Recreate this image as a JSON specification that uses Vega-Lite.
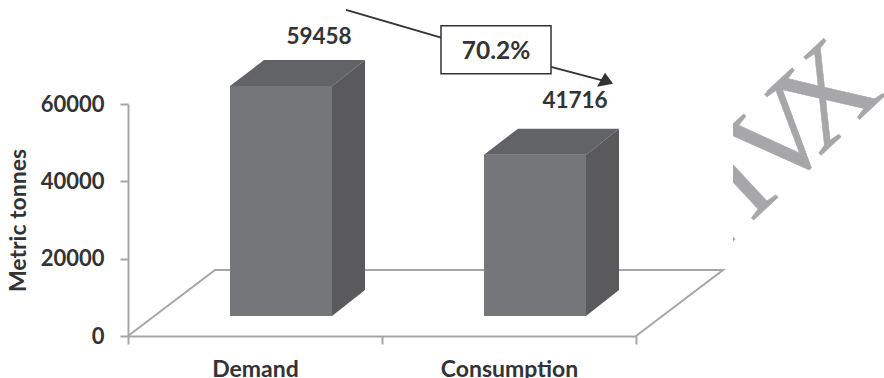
{
  "$schema": "https://vega.github.io/schema/vega-lite/v6.json",
  "width": 508,
  "height": 232,
  "autosize": "none",
  "padding": {"left": 128, "top": 104, "right": 248, "bottom": 42},
  "background": "#ffffff",
  "config": {"view": {"stroke": null}},
  "data": {"values": [
    {"category": "Demand", "value": 59458},
    {"category": "Consumption", "value": 41716}
  ]},
  "encoding": {
    "x": {
      "field": "category",
      "type": "nominal",
      "sort": ["Demand", "Consumption"],
      "scale": {"paddingInner": 0, "paddingOuter": 0},
      "axis": {
        "title": null,
        "labelAngle": 0,
        "tickBand": "extent",
        "tickSize": 8,
        "tickWidth": 2,
        "tickColor": "#a6a6a6",
        "domainColor": "#a6a6a6",
        "domainWidth": 2,
        "labelFont": "Lato",
        "labelFontWeight": "bold",
        "labelFontSize": 23,
        "labelColor": "#333333",
        "labelPadding": 14
      }
    }
  },
  "layer": [
    {
      "transform": [{"filter": "datum.category === 'Consumption'"}],
      "mark": {"type": "text", "text": "I", "font": "Liberation Serif", "fontSize": 128, "angle": 317, "align": "center", "baseline": "middle", "color": "#a7a7aa", "stroke": "#a7a7aa", "strokeWidth": 0.5, "xOffset": 188, "yOffset": -113},
      "encoding": {"y": {"datum": 0, "type": "quantitative", "scale": {"domain": [0, 60000], "nice": false}, "axis": {
        "title": "Metric tonnes",
        "values": [0, 20000, 40000, 60000],
        "format": "d",
        "grid": false,
        "tickSize": 8,
        "tickWidth": 2,
        "tickColor": "#a6a6a6",
        "domainColor": "#a6a6a6",
        "domainWidth": 2,
        "labelFont": "Lato",
        "labelFontWeight": "bold",
        "labelFontSize": 22,
        "labelColor": "#333333",
        "labelPadding": 16,
        "titleFont": "Lato",
        "titleFontWeight": "bold",
        "titleFontSize": 23,
        "titleColor": "#333333",
        "titlePadding": 10
      }}}
    },
    {
      "transform": [{"filter": "datum.category === 'Consumption'"}],
      "mark": {"type": "text", "text": "I", "font": "Liberation Serif", "fontSize": 128, "angle": 317, "align": "center", "baseline": "middle", "color": "#a7a7aa", "stroke": "#a7a7aa", "strokeWidth": 0.5, "xOffset": 231, "yOffset": -155},
      "encoding": {"y": {"datum": 0, "type": "quantitative"}}
    },
    {
      "transform": [{"filter": "datum.category === 'Consumption'"}],
      "mark": {"type": "text", "text": "V", "font": "Liberation Serif", "fontSize": 128, "angle": 317, "align": "center", "baseline": "middle", "color": "#a7a7aa", "stroke": "#a7a7aa", "strokeWidth": 0.5, "xOffset": 274, "yOffset": -196},
      "encoding": {"y": {"datum": 0, "type": "quantitative"}}
    },
    {
      "transform": [{"filter": "datum.category === 'Consumption'"}],
      "mark": {"type": "text", "text": "X", "font": "Liberation Serif", "fontSize": 128, "angle": 317, "align": "center", "baseline": "middle", "color": "#a7a7aa", "stroke": "#a7a7aa", "strokeWidth": 0.5, "xOffset": 318, "yOffset": -238},
      "encoding": {"y": {"datum": 0, "type": "quantitative"}}
    },
    {
      "transform": [{"filter": "datum.category === 'Consumption'"}],
      "mark": {"type": "point", "shape": "M91,-276L224,-276L224,-6L91,-6Z", "size": 4, "filled": true, "color": "#ffffff", "opacity": 1, "strokeWidth": 0},
      "encoding": {"y": {"datum": 0, "type": "quantitative"}}
    },
    {
      "transform": [{"filter": "datum.category === 'Demand'"}],
      "mark": {"type": "point", "shape": "M-127,0L-40,-66L468,-66L381,0", "size": 4, "filled": false, "stroke": "#a6a6a6", "strokeWidth": 2, "opacity": 1},
      "encoding": {"y": {"datum": 0, "type": "quantitative"}}
    },
    {
      "mark": {"type": "bar", "size": 102, "xOffset": 26, "yOffset": -20, "y2Offset": -20, "color": "#757679"},
      "encoding": {"y": {"field": "value", "type": "quantitative"}, "y2": {"datum": 0}}
    },
    {
      "mark": {"type": "bar", "size": 33, "xOffset": 93.5, "yOffset": -20, "y2Offset": -46, "color": "#5a5a5c"},
      "encoding": {"y": {"field": "value", "type": "quantitative"}, "y2": {"datum": 0}}
    },
    {
      "mark": {"type": "point", "shape": "M-25,-20L77,-20L110,-46L9,-46Z", "size": 4, "filled": true, "color": "#626366", "opacity": 1, "strokeWidth": 0},
      "encoding": {"y": {"field": "value", "type": "quantitative"}}
    },
    {
      "mark": {"type": "point", "shape": "M77,-20L110,-46L110,-19L77,-19Z", "size": 4, "filled": true, "color": "#5a5a5c", "opacity": 1, "strokeWidth": 0},
      "encoding": {"y": {"field": "value", "type": "quantitative"}}
    },
    {
      "mark": {"type": "point", "shape": "M77,-20L110,-46L110,-47L77,-47Z", "size": 4, "filled": true, "color": "#5a5a5c", "opacity": 1, "strokeWidth": 0},
      "encoding": {"y": {"datum": 0, "type": "quantitative"}}
    },
    {
      "transform": [{"filter": "datum.category === 'Demand'"}],
      "mark": {"type": "text", "font": "Lato", "fontWeight": "bold", "fontSize": 22.5, "color": "#333333", "dx": 64, "dy": -69, "baseline": "middle"},
      "encoding": {"y": {"field": "value", "type": "quantitative"}, "text": {"field": "value", "type": "quantitative", "format": "d"}}
    },
    {
      "transform": [{"filter": "datum.category === 'Consumption'"}],
      "mark": {"type": "text", "font": "Lato", "fontWeight": "bold", "fontSize": 22.5, "color": "#333333", "dx": 66, "dy": -74, "baseline": "middle"},
      "encoding": {"y": {"field": "value", "type": "quantitative"}, "text": {"field": "value", "type": "quantitative", "format": "d"}}
    },
    {
      "transform": [{"filter": "datum.category === 'Consumption'"}],
      "mark": {"type": "point", "shape": "M-163,-40L-67,-12M42,17L95,31", "size": 4, "filled": false, "stroke": "#333333", "strokeWidth": 2, "opacity": 1},
      "encoding": {"y": {"datum": 74000, "type": "quantitative"}}
    },
    {
      "transform": [{"filter": "datum.category === 'Consumption'"}],
      "mark": {"type": "point", "shape": "M104,34L96,23L88,37Z", "size": 4, "filled": true, "color": "#333333", "opacity": 1, "strokeWidth": 0},
      "encoding": {"y": {"datum": 74000, "type": "quantitative"}}
    },
    {
      "transform": [{"filter": "datum.category === 'Consumption'"}],
      "mark": {"type": "point", "shape": "M-68,-24L42,-24L42,24L-68,24Z", "size": 4, "filled": true, "fill": "#ffffff", "stroke": "#333333", "strokeWidth": 1.5, "opacity": 1},
      "encoding": {"y": {"datum": 74000, "type": "quantitative"}}
    },
    {
      "transform": [{"filter": "datum.category === 'Consumption'"}],
      "mark": {"type": "text", "text": "70.2%", "font": "Lato", "fontWeight": "bold", "fontSize": 24.5, "color": "#333333", "dx": -13, "dy": 2, "baseline": "middle"},
      "encoding": {"y": {"datum": 74000, "type": "quantitative"}}
    }
  ]
}
